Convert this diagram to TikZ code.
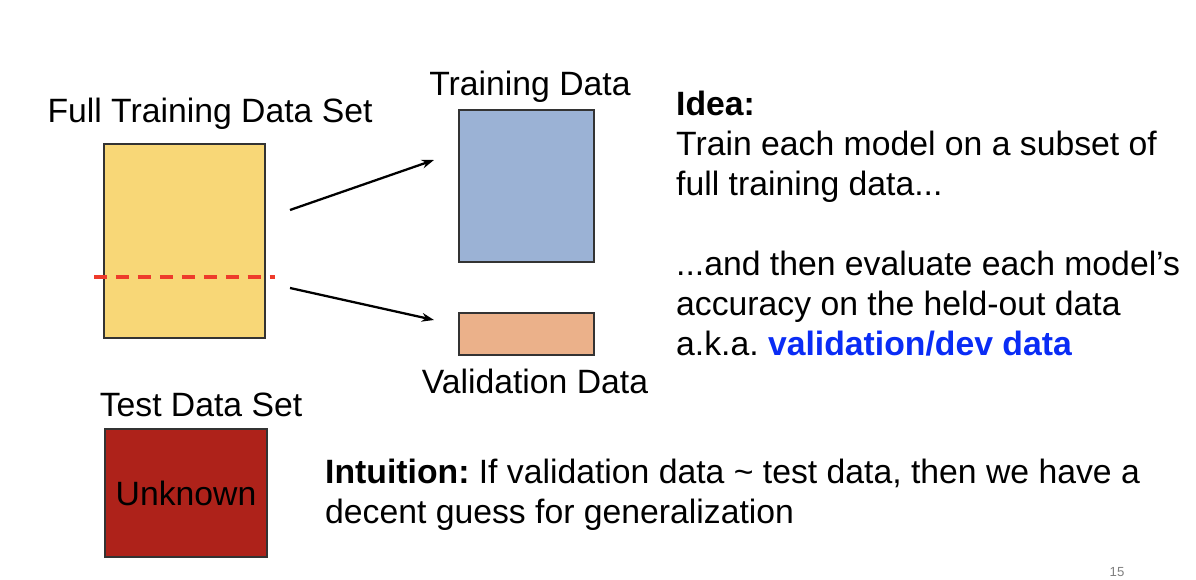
\documentclass[tikz,border=0pt]{standalone}
\usepackage{fontspec}
\setmainfont{Liberation Sans}
\usepackage{tikz}
\usetikzlibrary{arrows.meta,positioning,calc}
\definecolor{setyellow}{HTML}{F8D777}
\definecolor{trainblue}{HTML}{9BB2D5}
\definecolor{valorange}{HTML}{EBB18A}
\definecolor{testred}{HTML}{AE221A}
\definecolor{splitred}{HTML}{EE3B2B}
\definecolor{devblue}{HTML}{0A2CF5}
\definecolor{pagegray}{HTML}{7F7F7F}
\frenchspacing

\begin{document}
\begin{tikzpicture}[x=0.02cm,y=-0.02cm,
    big/.style={font=\fontsize{19.2}{22.8}\selectfont},
    databox/.style={draw=black!80,line width=0.6pt,inner sep=0pt},
    split/.style={-{Stealth[length=7pt,width=5pt]},line width=1.3pt}]
    \useasboundingbox (0,0) rectangle (1196,580);

    % full training set, split by the dashed line
    \node[databox,fill=setyellow,minimum width=3.22cm,minimum height=3.88cm] (full) at (184.5,241) {};
    \node[big] (fulllbl) at (210,114) {Full Training Data Set};
    \draw[splitred,line width=2.1pt,dash pattern=on 7.4pt off 5.1pt] (94,277) -- (275,277);

    % the two parts
    \node[databox,fill=trainblue,minimum width=2.7cm,minimum height=3.04cm] (train) at (526.5,186) {};
    \node[big] (trainlbl) at (530,87) {Training Data};
    \node[databox,fill=valorange,minimum width=2.7cm,minimum height=0.84cm] (val) at (526.5,334) {};
    \node[big] (vallbl) at (535,381) {Validation Data};

    \coordinate (upfrom) at (290,210);
    \coordinate (upto) at (434,160);
    \coordinate (lowfrom) at (290,288);
    \coordinate (lowto) at (434,320);
    \draw[split] (upfrom) -- (upto);
    \draw[split] (lowfrom) -- (lowto);

    % test set
    \node[databox,fill=testred,minimum width=3.24cm,minimum height=2.56cm,big] (test) at (186,493) {Unknown};
    \node[big] (testlbl) at (201,405) {Test Data Set};

    % explanations
    \node[big,align=left,anchor=north west] (idea) at (670,85)
        {\textbf{Idea:}\\
         Train each model on a subset of\\
         full training data...\\[22.8pt]
         ...and then evaluate each model’s\\
         accuracy on the held-out data\\
         a.k.a. \textcolor{devblue}{\textbf{validation/dev data}}};
    \node[big,align=left,anchor=north west] (intuition) at (319,453)
        {\textbf{Intuition:} If validation data \textasciitilde{} test data, then we have a\\
         decent guess for generalization};

    \node[pagegray,font=\fontsize{7.5}{9}\selectfont] (pageno) at (1117,572) {15};
\end{tikzpicture}
\end{document}
